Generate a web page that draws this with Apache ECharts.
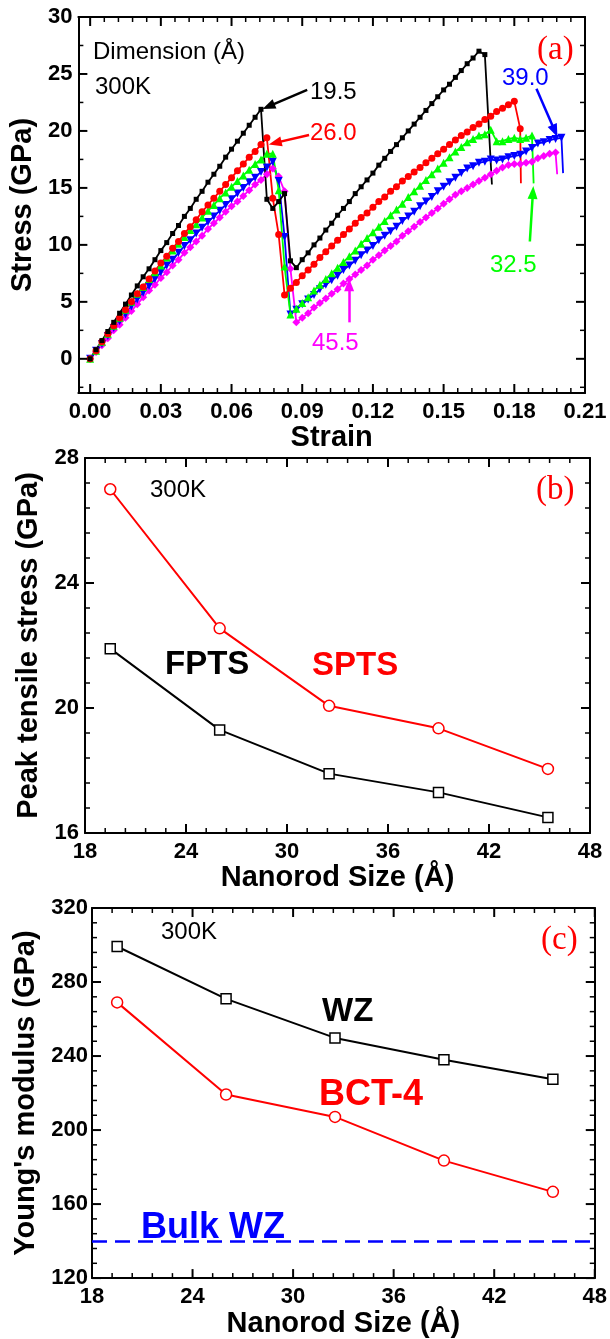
<!DOCTYPE html>
<html>
<head>
<meta charset="utf-8">
<script src="https://cdn.jsdelivr.net/npm/echarts@6/dist/echarts.min.js"></script>
<style>
  html, body { margin: 0; padding: 0; background: #fff; }
  #chart { width: 610px; height: 1339px; }
</style>
</head>
<body>
<div id="chart"></div>
<script>
// ---------- Panel (a): stress–strain curves for five nanorod dimensions ----------
const strainGrid = [0, 0.0025, 0.005, 0.0075, 0.01, 0.0125, 0.015, 0.0175, 0.02, 0.0225,
  0.025, 0.0275, 0.03, 0.0325, 0.035, 0.0375, 0.04, 0.0425, 0.045, 0.0475,
  0.05, 0.0525, 0.055, 0.0575, 0.06, 0.0625, 0.065, 0.0675, 0.07, 0.0725,
  0.075, 0.0775, 0.08, 0.0825, 0.085, 0.0875, 0.09, 0.0925, 0.095, 0.0975,
  0.1, 0.1025, 0.105, 0.1075, 0.11, 0.1125, 0.115, 0.1175, 0.12, 0.1225,
  0.125, 0.1275, 0.13, 0.1325, 0.135, 0.1375, 0.14, 0.1425, 0.145, 0.1475,
  0.15, 0.1525, 0.155, 0.1575, 0.16, 0.1625, 0.165, 0.1675, 0.17, 0.1725,
  0.175, 0.1775, 0.18, 0.1825, 0.185, 0.1875, 0.19, 0.1925, 0.195, 0.1975, 0.2];

const stress195 = [0, 0.8, 1.6, 2.4, 3.2, 4.0, 4.8, 5.6, 6.4, 7.2, 7.9, 8.7, 9.5, 10.2, 11.0,
  11.7, 12.5, 13.2, 14.0, 14.7, 15.5, 16.2, 16.9, 17.7, 18.4, 19.1, 19.8, 20.5, 21.2, 21.9,
  14.0, 13.2, 13.8, 14.5, 8.6,
  8.0, 8.7, 9.3, 10.0, 10.6, 11.3, 11.9, 12.6, 13.2, 13.8, 14.5, 15.1, 15.7, 16.3, 17.0,
  17.6, 18.2, 18.8, 19.4, 20.0, 20.6, 21.2, 21.8, 22.4, 23.0, 23.6, 24.1, 24.7, 25.3, 25.9,
  26.4, 27.0, 26.7];
const stress260 = [0, 0.7, 1.5, 2.2, 2.9, 3.6, 4.3, 5.0, 5.7, 6.3, 7.0, 7.7, 8.4, 9.0, 9.7,
  10.3, 11.0, 11.6, 12.2, 12.9, 13.5, 14.1, 14.7, 15.3, 15.9, 16.5, 17.1, 17.7, 18.2, 18.8, 19.4,
  14.1, 10.9,
  5.6, 6.2, 6.7, 7.3, 7.8, 8.3, 8.9, 9.4, 9.9, 10.4, 10.9, 11.4, 11.9, 12.4, 12.8, 13.3,
  13.8, 14.2, 14.7, 15.1, 15.6, 16.0, 16.4, 16.8, 17.2, 17.6, 18.0, 18.4, 18.8, 19.2, 19.6,
  19.9, 20.3, 20.6, 21.0, 21.3, 21.7, 22.0, 22.3, 22.6, 20.2];
const stress325 = [0, 0.7, 1.5, 2.2, 2.9, 3.6, 4.3, 5.0, 5.7, 6.3, 7.0, 7.6, 8.2, 8.9, 9.5,
  10.1, 10.7, 11.3, 11.8, 12.4, 13.0, 13.5, 14.1, 14.6, 15.1, 15.6, 16.1, 16.6, 17.1, 17.5,
  18.0, 18.0, 14.8, 8.1, 3.9,
  4.4, 4.9, 5.4, 6.0, 6.5, 7.0, 7.5, 8.0, 8.5, 9.0, 9.5, 10.1, 10.6, 11.1, 11.6,
  12.1, 12.6, 13.1, 13.6, 14.2, 14.7, 15.2, 15.7, 16.2, 16.7, 17.2, 17.7, 18.2, 18.6, 19.0,
  19.3, 19.6, 19.7, 20.1, 19.1, 19.1, 19.3, 19.4, 19.3, 19.4, 19.6];
const stress390 = [0, 0.7, 1.3, 2.0, 2.7, 3.3, 3.9, 4.6, 5.2, 5.8, 6.4, 7.0, 7.6, 8.2, 8.7,
  9.3, 9.9, 10.4, 11.0, 11.5, 12.0, 12.5, 13.0, 13.5, 14.0, 14.5, 15.0, 15.5, 15.9, 16.4, 16.8,
  17.3, 15.6, 10.7, 3.9,
  4.3, 4.8, 5.2, 5.6, 6.1, 6.5, 6.9, 7.3, 7.8, 8.2, 8.6, 9.1, 9.5, 9.9, 10.4,
  10.8, 11.2, 11.6, 12.1, 12.5, 12.9, 13.4, 13.8, 14.2, 14.7, 15.1, 15.5, 15.9, 16.3, 16.7,
  16.9, 17.2, 17.3, 17.5, 17.4, 17.5, 17.7, 17.8, 17.9, 18.2, 18.5, 18.9, 19.0, 19.2, 19.3, 19.4];
const stress455 = [0, 0.6, 1.2, 1.8, 2.5, 3.0, 3.6, 4.2, 4.8, 5.4, 6.0, 6.5, 7.1, 7.6, 8.2,
  8.7, 9.3, 9.8, 10.3, 10.8, 11.4, 11.9, 12.4, 12.9, 13.4, 13.8, 14.3, 14.8, 15.3, 15.7, 16.2,
  16.7, 16.0, 14.7, 7.9,
  3.2, 3.6, 4.0, 4.5, 4.9, 5.3, 5.7, 6.1, 6.6, 7.0, 7.4, 7.8, 8.2, 8.7, 9.1,
  9.5, 9.9, 10.3, 10.8, 11.2, 11.6, 12.0, 12.4, 12.8, 13.2, 13.6, 14.0, 14.4, 14.7, 15.0,
  15.3, 15.6, 15.9, 16.2, 16.5, 16.8, 17.0, 17.1, 17.1, 17.2, 17.3, 17.6, 17.8, 18.0, 18.1];
// final fracture point of each curve (strain, stress), drawn without a marker
const fracture195 = [0.1705, 15.3];
const fracture260 = [0.1828, 15.4];
const fracture325 = [0.1882, 15.4];
const fracture390 = [0.2007, 16.3];
const fracture455 = [0.1982, 16.2];

// ---------- Panels (b) and (c): size dependence ----------
const nanorodSize = [19.5, 26.0, 32.5, 39.0, 45.5];
const fptsStress = [21.9, 19.3, 17.9, 17.3, 16.5];
const sptsStress = [27.0, 22.55, 20.07, 19.35, 18.05];
const wzModulus = [299.2, 270.9, 249.8, 238.0, 227.5];
const bct4Modulus = [269.0, 219.2, 207.1, 183.5, 166.6];
const bulkWzModulus = 140;

const FONT = '"Liberation Sans", Arial, Helvetica, sans-serif';
const SERIF = '"Liberation Serif", "Times New Roman", serif';
const RED = '#ff0000', GREEN = '#00ff00', BLUE = '#0000ff', MAGENTA = '#ff00ff';

const isStep = (v, step) => Math.abs(v / step - Math.round(v / step)) < 1e-6;
function stepsBetween(a, b, step) {
  const out = [];
  const n = Math.round((b - a) / step);
  for (let i = 0; i <= n; i++) out.push(+(a + i * step).toFixed(6));
  return out;
}

// Axis scales and frame (box) of each panel
const axisDefs = [
  { x: { min: -0.005, max: 0.21, step: 0.03, minor: 0.006, split: 7, fmt: v => v.toFixed(2),
         name: 'Strain', nameGap: 25, margin: 8 },
    y: { min: -3, max: 30, step: 5, minor: 2.5, split: 7, fmt: v => String(v),
         name: 'Stress (GPa)', nameGap: 35, margin: 6 } },
  { x: { min: 18, max: 48, step: 6, minor: 1.2, split: 5, fmt: v => String(v),
         name: 'Nanorod Size (Å)', nameGap: 25, margin: 8 },
    y: { min: 16, max: 28, step: 4, minor: 0.8, split: 3, fmt: v => String(v),
         name: 'Peak tensile stress (GPa)', nameGap: 38, margin: 6 } },
  { x: { min: 18, max: 48, step: 6, minor: 1.2, split: 5, fmt: v => String(v),
         name: 'Nanorod Size (Å)', nameGap: 25, margin: 8 },
    y: { min: 120, max: 320, step: 40, minor: 8, split: 5, fmt: v => String(v),
         name: "Young's modulus (GPa)", nameGap: 41, margin: 4 } }
];

const grids = [
  { left: 77, top: 17, width: 508, height: 376 },
  { left: 85, top: 458, width: 505, height: 375 },
  { left: 92, top: 908, width: 503, height: 375 }
];

const xAxes = [], yAxes = [];
function addAxes(list, kind, gi, o) {
  const pos = kind === 'x' ? ['bottom', 'top'] : ['left', 'right'];
  const base = {
    type: 'value', gridIndex: gi, min: o.min, max: o.max,
    minInterval: o.step, maxInterval: o.step, splitNumber: o.split,
    splitLine: { show: false }, splitArea: { show: false },
    axisLine: { show: true, onZero: false, lineStyle: { color: '#000', width: 2 } },
    axisTick: { show: false }, minorTick: { show: false }
  };
  const mainIndex = list.length;
  list.push(Object.assign({}, base, {
    position: pos[0],
    axisLabel: { show: true, margin: o.margin, color: '#000', fontFamily: FONT,
      fontWeight: 'bold', fontSize: 22,
      formatter: v => (isStep(v, o.step) ? o.fmt(v) : '') },
    name: o.name, nameLocation: 'middle', nameGap: o.nameGap,
    nameTextStyle: { color: '#000', fontFamily: FONT, fontWeight: 'bold', fontSize: 29 }
  }));
  list.push(Object.assign({}, base, { position: pos[1], axisLabel: { show: false } }));
  return mainIndex;
}
const axisIndex = axisDefs.map((d, gi) => ({
  x: addAxes(xAxes, 'x', gi, d.x),
  y: addAxes(yAxes, 'y', gi, d.y)
}));
const xa = axisIndex[0].x, ya = axisIndex[0].y;
const xb = axisIndex[1].x, yb = axisIndex[1].y;
const xc = axisIndex[2].x, yc = axisIndex[2].y;

function curve(stress, fracture) {
  const pts = stress.map((s, i) => [strainGrid[i], s]);
  pts.push({ value: fracture, symbol: 'none' });
  return pts;
}
function arrow(color, from, to) {
  return { silent: true, symbol: ['none', 'triangle'], symbolSize: [10, 13], animation: false,
    lineStyle: { color, width: 2.5, type: 'solid' }, label: { show: false },
    emphasis: { disabled: true }, data: [[{ coord: from }, { coord: to }]] };
}
function strainSeries(stress, fracture, color, symbol, size, extra) {
  return Object.assign({ type: 'line', xAxisIndex: xa, yAxisIndex: ya, data: curve(stress, fracture),
    symbol, symbolSize: size, showAllSymbol: true, itemStyle: { color },
    lineStyle: { color, width: 1.8 }, emphasis: { disabled: true } }, extra || {});
}

const series = [
  strainSeries(stress455, fracture455, MAGENTA, 'diamond', 8, {
    markLine: arrow(MAGENTA, [0.1099, 3.2], [0.1099, 6.5]) }),
  strainSeries(stress390, fracture390, BLUE, 'triangle', 8, { symbolRotate: 180,
    markLine: arrow(BLUE, [0.1894, 23.7], [0.1972, 20.0]) }),
  strainSeries(stress325, fracture325, GREEN, 'triangle', 8, {
    markLine: arrow(GREEN, [0.1866, 10.3], [0.1879, 14.6]) }),
  strainSeries(stress260, fracture260, RED, 'circle', 7, {
    markLine: arrow(RED, [0.0929, 19.65], [0.0785, 18.95]) }),
  strainSeries(stress195, fracture195, '#000', 'rect', 5, {
    markLine: arrow('#000', [0.0921, 23.6], [0.0757, 22.15]) }),
  // panel (b)
  { type: 'line', xAxisIndex: xb, yAxisIndex: yb, data: nanorodSize.map((s, i) => [s, fptsStress[i]]),
    symbol: 'rect', symbolSize: 10, itemStyle: { color: '#fff', borderColor: '#000', borderWidth: 1.5 },
    lineStyle: { color: '#000', width: 2 }, emphasis: { disabled: true } },
  { type: 'line', xAxisIndex: xb, yAxisIndex: yb, data: nanorodSize.map((s, i) => [s, sptsStress[i]]),
    symbol: 'circle', symbolSize: 11, itemStyle: { color: '#fff', borderColor: RED, borderWidth: 1.5 },
    lineStyle: { color: RED, width: 2 }, emphasis: { disabled: true } },
  // panel (c)
  { type: 'line', xAxisIndex: xc, yAxisIndex: yc, data: nanorodSize.map((s, i) => [s, wzModulus[i]]),
    symbol: 'rect', symbolSize: 10, itemStyle: { color: '#fff', borderColor: '#000', borderWidth: 1.5 },
    lineStyle: { color: '#000', width: 2 }, emphasis: { disabled: true },
    markLine: { silent: true, symbol: ['none', 'none'], animation: false, label: { show: false },
      lineStyle: { color: BLUE, width: 2.5, type: [15, 8] }, emphasis: { disabled: true },
      data: [{ yAxis: bulkWzModulus }] } },
  { type: 'line', xAxisIndex: xc, yAxisIndex: yc, data: nanorodSize.map((s, i) => [s, bct4Modulus[i]]),
    symbol: 'circle', symbolSize: 11, itemStyle: { color: '#fff', borderColor: RED, borderWidth: 1.5 },
    lineStyle: { color: RED, width: 2 }, emphasis: { disabled: true } }
];

function text(str, x, y, font, fill) {
  return { type: 'text', x, y, silent: true, z: 10,
    style: { text: str, font, fill, align: 'left', verticalAlign: 'middle',
      textAlign: 'left', textVerticalAlign: 'middle' } };
}
const plain = '24px ' + FONT;
const big = 'bold 33px ' + FONT;
const bigger = 'bold 36px ' + FONT;
const tag = '33px ' + SERIF;

const labels = [
  text('Dimension (Å)', 93, 52, plain, '#000'),
  text('300K', 95, 87, plain, '#000'),
  text('(a)', 537, 50, tag, RED),
  text('19.5', 310, 92, plain, '#000'),
  text('26.0', 310, 133, plain, RED),
  text('39.0', 502, 78, plain, BLUE),
  text('32.5', 490, 265, plain, GREEN),
  text('45.5', 312, 343, plain, MAGENTA),
  text('300K', 150, 490, plain, '#000'),
  text('(b)', 536, 490, tag, RED),
  text('FPTS', 165, 665, big, '#000'),
  text('SPTS', 312, 666, big, RED),
  text('300K', 161, 932, plain, '#000'),
  text('(c)', 541, 940, tag, RED),
  text('WZ', 322, 1012, big, '#000'),
  text('BCT-4', 319, 1095, bigger, RED),
  text('Bulk WZ', 141, 1228, bigger, BLUE)
];

const chart = echarts.init(document.getElementById('chart'), null, { renderer: 'canvas' });
chart.setOption({
  backgroundColor: '#fff',
  animation: false,
  grid: grids,
  xAxis: xAxes,
  yAxis: yAxes,
  series
});

// Inward major/minor tick marks on all four sides of each panel, positioned via the panel scales.
function tickMarks() {
  const out = [];
  const seg = (x1, y1, x2, y2, w) => out.push({ type: 'line', silent: true, z: 5,
    shape: { x1, y1, x2, y2 }, style: { stroke: '#000', lineWidth: w } });
  axisDefs.forEach((d, gi) => {
    const finder = { xAxisIndex: axisIndex[gi].x, yAxisIndex: axisIndex[gi].y };
    const px = p => chart.convertToPixel(finder, p);
    const xFirst = Math.ceil(d.x.min / d.x.minor - 1e-9) * d.x.minor;
    stepsBetween(xFirst, d.x.max, d.x.minor).forEach(v => {
      if (v < d.x.min - 1e-9 || v > d.x.max + 1e-9) return;
      const major = isStep(v, d.x.step);
      const len = major ? 9 : 5, w = major ? 2 : 1.5;
      const b = px([v, d.y.min]), t = px([v, d.y.max]);
      seg(b[0], b[1], b[0], b[1] - len, w);
      seg(t[0], t[1], t[0], t[1] + len, w);
    });
    const yFirst = Math.ceil(d.y.min / d.y.minor - 1e-9) * d.y.minor;
    stepsBetween(yFirst, d.y.max, d.y.minor).forEach(v => {
      if (v < d.y.min - 1e-9 || v > d.y.max + 1e-9) return;
      const major = isStep(v, d.y.step);
      const len = major ? 9 : 5, w = major ? 2 : 1.5;
      const l = px([d.x.min, v]), r = px([d.x.max, v]);
      seg(l[0], l[1], l[0] + len, l[1], w);
      seg(r[0], r[1], r[0] - len, r[1], w);
    });
  });
  return out;
}

chart.setOption({ graphic: { elements: labels.concat(tickMarks()) } });
</script>
</body>
</html>
